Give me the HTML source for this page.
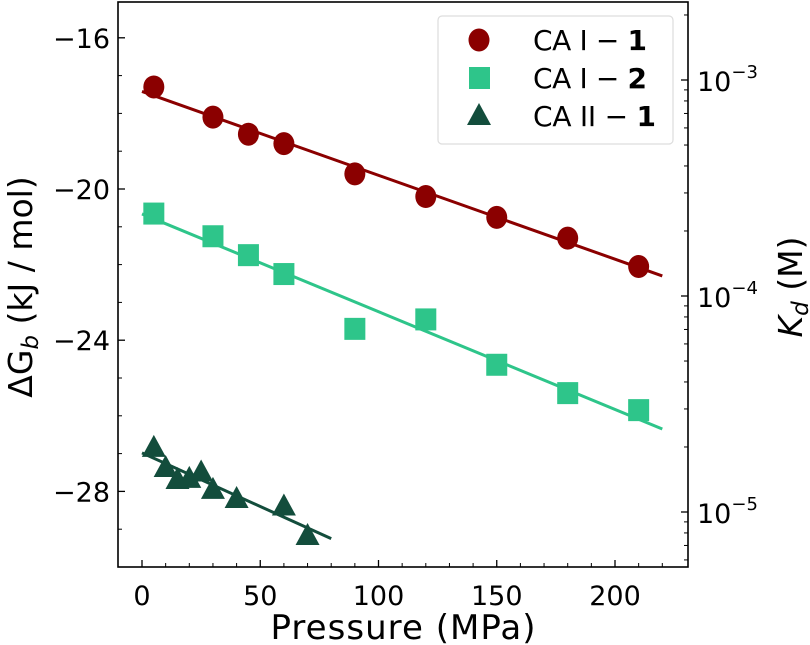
<!DOCTYPE html>
<html><head><meta charset="utf-8"><style>
body{margin:0;background:#fff}
svg{display:block;font-family:"DejaVu Sans","Liberation Sans",sans-serif}
</style></head><body>
<svg id="chart" width="810" height="645" viewBox="0 0 810 645"></svg>
<script>
const ca1x=[5,30,45,60,90,120,150,180,210];
const ca1y=[-17.3,-18.1,-18.55,-18.8,-19.6,-20.2,-20.75,-21.3,-22.05];
const ca2x=[5,30,45,60,90,120,150,180,210];
const ca2y=[-20.65,-21.25,-21.75,-22.25,-23.7,-23.45,-24.65,-25.4,-25.85];
const c21x=[5,10,15,20,25,30,40,60,70];
const c21y=[-26.85,-27.38,-27.7,-27.67,-27.5,-27.96,-28.2,-28.4,-29.18];
const fit1=[[0,-17.42],[220,-22.3]];
const fit2=[[0,-20.66],[220,-26.35]];
const fit3=[[0,-26.98],[80,-29.25]];
const xTicks=[0,50,100,150,200];
const yTicks=[-16,-20,-24,-28];
const kdTicks=[-3,-4,-5];

const NS="http://www.w3.org/2000/svg";
const svg=document.getElementById('chart');
const L=118,R=688,T=2,B=567;
const X=v=>142+v*2.365;
const Y=v=>189+(-20-v)*37.8;
const KY=e=>296-(e+4)*216;
function mk(t,a,p){const el=document.createElementNS(NS,t);for(const k in a)el.setAttribute(k,a[k]);(p||svg).appendChild(el);return el;}

xTicks.forEach(v=>{const g=mk('g',{});


mk('line',{x1:X(v),x2:X(v),y1:B,y2:B-7,stroke:'#000','stroke-width':1.3},g);
const t=mk('text',{x:X(v),y:B+38,'text-anchor':'middle','font-size':27},g);t.textContent=v;});
for(let v=0;v<=220;v+=10){if(v%50)mk('line',{x1:X(v),x2:X(v),y1:B,y2:B-4,stroke:'#000','stroke-width':1});}
yTicks.forEach(v=>{const g=mk('g',{});


mk('line',{x1:L,x2:L+7,y1:Y(v),y2:Y(v),stroke:'#000','stroke-width':1.3},g);
const t=mk('text',{x:L-8,y:Y(v)+10,'text-anchor':'end','font-size':27},g);t.textContent='\u2212'+(-v);});
for(let v=-29;v<=-16;v++){if(v%4)mk('line',{x1:L,x2:L+4,y1:Y(v),y2:Y(v),stroke:'#000','stroke-width':1});}
kdTicks.forEach(e=>{const g=mk('g',{});


mk('line',{x1:R,x2:R-7,y1:KY(e),y2:KY(e),stroke:'#000','stroke-width':1.3},g);
const t=mk('text',{x:697,y:KY(e)+11,'font-size':27},g);t.textContent='10';
const s=mk('tspan',{dy:-13,'font-size':18},t);s.textContent='\u2212'+(-e);});
for(let e=-6;e<=-3;e++){for(let m=2;m<=9;m++){const y=KY(e+Math.log10(m));if(y>T&&y<B)mk('line',{x1:R,x2:R-4,y1:y,y2:y,stroke:'#000','stroke-width':1});}}

function series(xs,ys,fit,col,shape,name){
 const g=mk('g',{});
 
 
 mk('line',{x1:X(fit[0][0]),y1:Y(fit[0][1]),x2:X(fit[1][0]),y2:Y(fit[1][1]),stroke:col,'stroke-width':3},g);
 xs.forEach((x,i)=>{const cx=X(x),cy=Y(ys[i]);let m;
  if(shape==='c')m=mk('ellipse',{cx,cy,rx:10.5,ry:11.5,fill:col},g);
  else if(shape==='s')m=mk('rect',{x:cx-10.5,y:cy-11,width:21,height:22,fill:col},g);
  else m=mk('polygon',{points:`${cx},${cy-13} ${cx-12},${cy+9} ${cx+12},${cy+9}`,fill:col},g);
  
  
 });
}
series(ca1x,ca1y,fit1,'#8b0000','c','series-ca1-1');
series(ca2x,ca2y,fit2,'#2ec58a','s','series-ca1-2');
series(c21x,c21y,fit3,'#134d3c','t','series-ca2-1');

const f=mk('rect',{x:L,y:T,width:R-L,height:B-T,fill:'none',stroke:'#000','stroke-width':1.6});


</script>
<svg width="810" height="645" style="position:absolute;left:0;top:0" font-family="DejaVu Sans, Liberation Sans, sans-serif">
<g>
<rect x="438" y="16" width="235" height="128" rx="4" fill="#fff" fill-opacity="0.85" stroke="#ddd" stroke-width="1.2"/>
<ellipse cx="479" cy="40" rx="10.5" ry="11.5" fill="#8b0000"/>
<rect x="469" y="67" width="21" height="22" fill="#2ec58a"/>
<polygon points="479,103 467,125 491,125" fill="#134d3c"/>
<text x="533" y="50" font-size="28" textLength="114">CA I − <tspan font-weight="bold">1</tspan></text>
<text x="533" y="88" font-size="28" textLength="114">CA I − <tspan font-weight="bold">2</tspan></text>
<text x="533" y="126" font-size="28" textLength="123">CA II − <tspan font-weight="bold">1</tspan></text>
</g>
<text x="403" y="639" font-size="34" text-anchor="middle" textLength="265">Pressure (MPa)</text>
<text transform="translate(32,287) rotate(-90)" font-size="33" text-anchor="middle">ΔG<tspan font-style="italic" font-size="23" dy="6">b</tspan><tspan dy="-6"> (kJ / mol)</tspan></text>
<text transform="translate(802,287) rotate(-90)" font-size="33" text-anchor="middle"><tspan font-style="italic">K</tspan><tspan font-style="italic" font-size="23" dy="6">d</tspan><tspan dy="-6"> (M)</tspan></text>
</svg>
</body></html>
